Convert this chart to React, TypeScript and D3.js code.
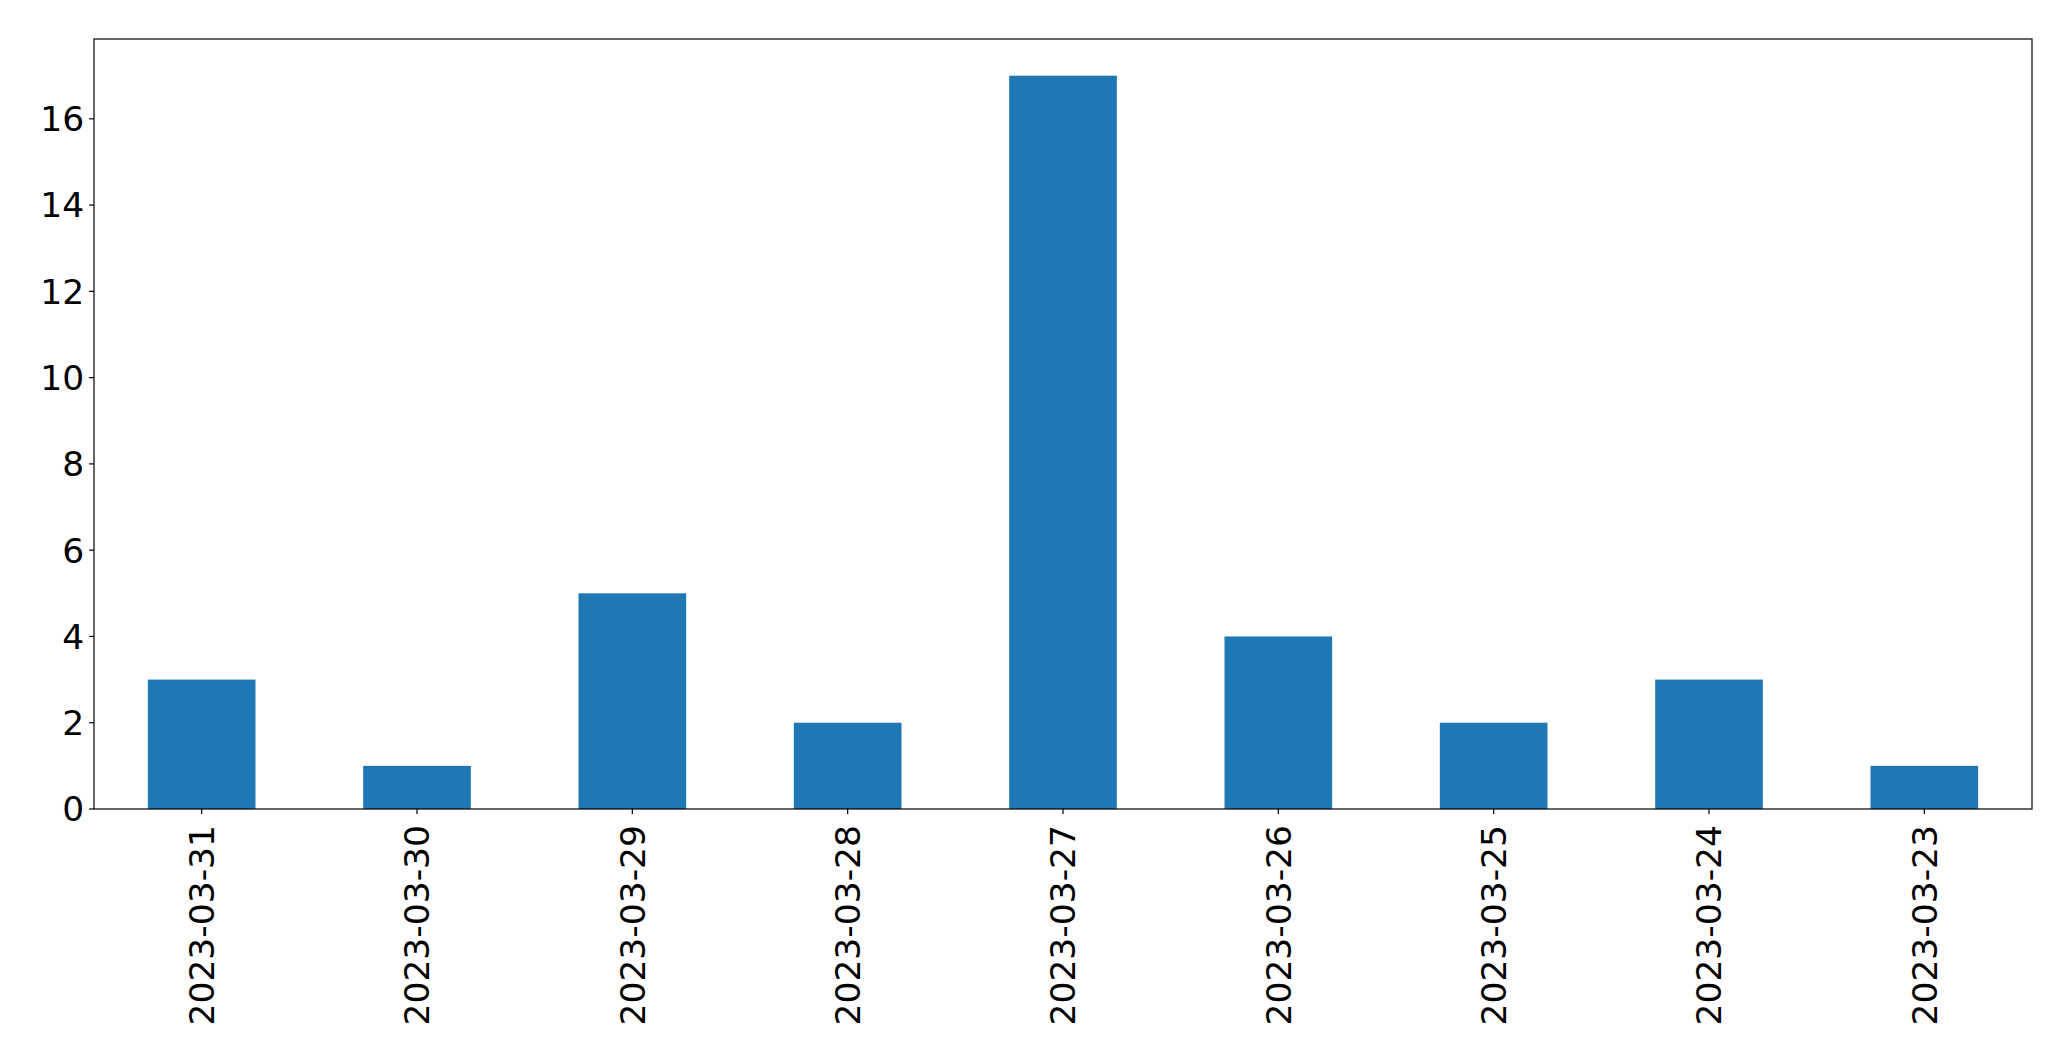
import React, { useEffect, useRef } from "react";
import * as d3 from "d3";

const categories = ["2023-03-31", "2023-03-30", "2023-03-29", "2023-03-28", "2023-03-27", "2023-03-26", "2023-03-25", "2023-03-24", "2023-03-23"];
const values = [3, 1, 5, 2, 17, 4, 2, 3, 1];
const yTicks = [0, 2, 4, 6, 8, 10, 12, 14, 16];

const W = 2071;
const H = 1061;
const M = { left: 94, right: 2032, top: 39, bottom: 809 };
const FONT = "'DejaVu Sans', sans-serif";
const FS = 34.5;

export default function App() {
  const ref = useRef<SVGSVGElement>(null);
  useEffect(() => {
    const svg = d3.select(ref.current);
    svg.selectAll("*").remove();
    const x = d3.scaleLinear().domain([-0.5, categories.length - 0.5]).range([M.left, M.right]);
    const y = d3.scaleLinear().domain([0, d3.max(values)! * 1.05]).range([M.bottom, M.top]);
    const bw = x(0.5) - x(0);

    svg.append("rect").attr("width", W).attr("height", H).attr("fill", "white");

    svg.append("g").selectAll("rect").data(values).join("rect")
      .attr("x", (_, i) => x(i) - bw / 2)
      .attr("width", bw)
      .attr("y", (d) => y(d))
      .attr("height", (d) => y(0) - y(d))
      .attr("fill", "#1f77b4");

    svg.append("rect")
      .attr("x", M.left).attr("y", M.top)
      .attr("width", M.right - M.left).attr("height", M.bottom - M.top)
      .attr("fill", "none").attr("stroke", "black").attr("stroke-width", 1.2);

    const tickLen = 4.9;
    const yg = svg.append("g");
    yTicks.forEach((t) => {
      yg.append("line").attr("x1", M.left - tickLen).attr("x2", M.left)
        .attr("y1", y(t)).attr("y2", y(t)).attr("stroke", "black").attr("stroke-width", 1.2);
      yg.append("text").attr("x", M.left - tickLen - 5).attr("y", y(t))
        .attr("dy", "0.36em").attr("text-anchor", "end")
        .attr("font-family", FONT).attr("font-size", FS).attr("fill", "black").text(String(t));
    });

    const xg = svg.append("g");
    categories.forEach((c, i) => {
      xg.append("line").attr("x1", x(i)).attr("x2", x(i))
        .attr("y1", M.bottom).attr("y2", M.bottom + tickLen).attr("stroke", "black").attr("stroke-width", 1.2);
      xg.append("text")
        .attr("transform", `translate(${x(i)},${M.bottom + 16}) rotate(-90)`)
        .attr("text-anchor", "end").attr("dy", "0.36em")
        .attr("font-family", FONT).attr("font-size", FS).attr("fill", "black").text(c);
    });
  }, []);
  return (
    <div style={{ position: "absolute", left: 0, top: 0 }}>
      <svg ref={ref} width={W} height={H} style={{ display: "block" }} />
    </div>
  );
}
